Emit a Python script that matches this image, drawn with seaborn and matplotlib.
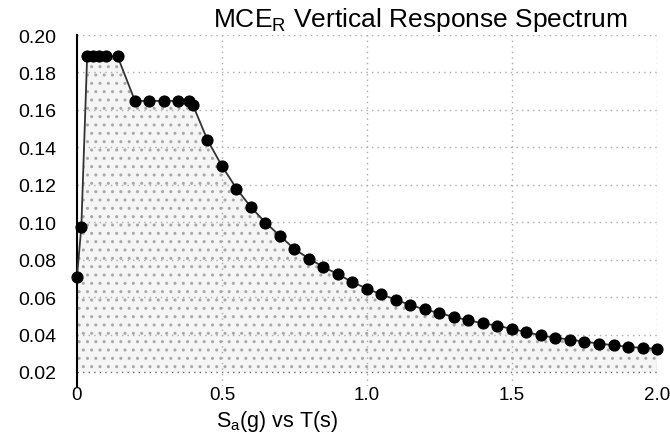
import matplotlib
matplotlib.use("Agg")
import matplotlib.pyplot as plt
import seaborn as sns
import pandas as pd

period_s = [0.0, 0.015, 0.035, 0.055, 0.075, 0.10, 0.14,
            0.20, 0.25, 0.30, 0.35, 0.385, 0.40,
            0.45, 0.50, 0.55, 0.60, 0.65, 0.70, 0.75, 0.80, 0.85, 0.90, 0.95, 1.00,
            1.05, 1.10, 1.15, 1.20, 1.25, 1.30, 1.35, 1.40, 1.45, 1.50,
            1.55, 1.60, 1.65, 1.70, 1.75, 1.80, 1.85, 1.90, 1.95, 2.00]
sa_g = [0.071, 0.0975, 0.1886, 0.1886, 0.1886, 0.1886, 0.1886,
        0.1648, 0.1648, 0.1648, 0.1648, 0.1648, 0.1625,
        0.1439, 0.130, 0.118, 0.108, 0.0998, 0.0927, 0.0857, 0.0805, 0.0761, 0.0722, 0.0680, 0.0645,
        0.0614, 0.0586, 0.0557, 0.0534, 0.0514, 0.0494, 0.0476, 0.0460, 0.0447, 0.0430,
        0.0413, 0.0395, 0.0383, 0.0373, 0.0362, 0.0352, 0.0343, 0.0334, 0.0329, 0.0324]
y_ticks = [0.02, 0.04, 0.06, 0.08, 0.10, 0.12, 0.14, 0.16, 0.18, 0.20]
x_ticks = [0, 0.5, 1.0, 1.5, 2.0]
x_tick_labels = ["0", "0.5", "1.0", "1.5", "2.0"]
title_text = r"MCE$_{\mathregular{R}}$ Vertical Response Spectrum"
xlabel_text = r"S$_{\mathregular{a}}$(g) vs T(s)"

df = pd.DataFrame({"T": period_s, "Sa": sa_g})

sns.set_style("white")
plt.rcParams["font.family"] = ["Liberation Sans", "DejaVu Sans"]
plt.rcParams["text.color"] = "black"

fig = plt.figure(figsize=(6.7, 4.35), dpi=100)
ax = fig.add_axes([0.1149, 0.1103, 0.8657, 0.8069])

ax.fill_between(df["T"], 0.02, df["Sa"], facecolor="#f5f5f5", edgecolor="#a8a8a8",
                hatch="..", linewidth=0, zorder=1)
sns.lineplot(data=df, x="T", y="Sa", ax=ax, color="#333333", linewidth=1.3,
             marker="o", markersize=8, markerfacecolor="black",
             markeredgecolor="black", zorder=3, clip_on=False)

ax.set_xlim(0, 2.0)
ax.set_ylim(0.0125, 0.20)
ax.set_yticks(y_ticks)
ax.set_yticklabels([f"{v:.2f}" for v in y_ticks])
ax.set_xticks(x_ticks)
ax.set_xticklabels(x_tick_labels)
ax.tick_params(axis="both", length=0, colors="black")
ax.tick_params(axis="y", pad=15, labelsize=14)
ax.tick_params(axis="x", pad=0, labelsize=13.5)

for v in y_ticks:
    ax.axhline(v, color="#666666" if v == 0.02 else "#aaaaaa",
               linestyle=(0, (1, 3)), linewidth=1.0, zorder=2)
for v in x_ticks[1:]:
    ax.axvline(v, color="#aaaaaa", linestyle=(0, (1, 3)), linewidth=1.0, zorder=2)

for s in ["top", "right", "bottom"]:
    ax.spines[s].set_visible(False)
ax.spines["left"].set_color("black")
ax.spines["left"].set_linewidth(1.5)

ax.set_ylabel("")
ax.set_xlabel(xlabel_text, fontsize=15.5, color="black")
ax.xaxis.set_label_coords(0.345, -0.064)

fig.text(0.627, 0.955, title_text, fontsize=19, ha="center", va="center", color="black")

fig.savefig("out.png", dpi=100)
